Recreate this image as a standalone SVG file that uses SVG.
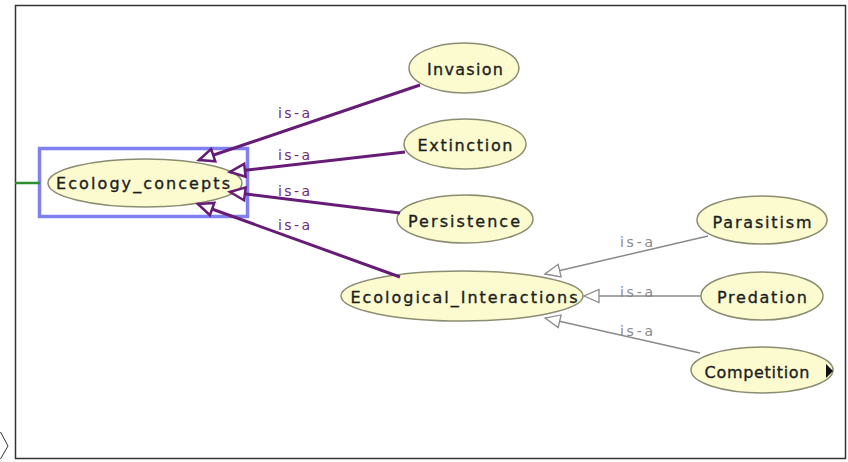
<svg xmlns="http://www.w3.org/2000/svg" width="848" height="462" viewBox="0 0 848 462">
<defs>
<style>
.node ellipse{fill:#fbfbcf;stroke:#8c8c72;stroke-width:1.5}
.node text{font-family:"DejaVu Sans",Verdana,sans-serif;font-size:16px;fill:#1e1e1e;stroke:#1e1e1e;stroke-width:0.35;text-anchor:middle}
.pe{stroke:#661c76;stroke-width:3;fill:none;marker-end:url(#ap)}
.ge{stroke:#8a8a8a;stroke-width:1.5;fill:none;marker-end:url(#ag)}
.pl{font-family:"DejaVu Sans",Verdana,sans-serif;font-size:14px;fill:#6e2a7e}
.gl{font-family:"DejaVu Sans",Verdana,sans-serif;font-size:14px;fill:#8a8a8a}
</style>
<marker id="ap" markerUnits="userSpaceOnUse" markerWidth="22" markerHeight="18" viewBox="-19 -9 22 18" refX="0" refY="0" orient="auto">
<path d="M0,0 L-15,-6.5 L-15,6.5 Z" fill="#fff" stroke="#661c76" stroke-width="2.5" stroke-linejoin="miter"/>
</marker>
<marker id="ag" markerUnits="userSpaceOnUse" markerWidth="22" markerHeight="18" viewBox="-19 -9 22 18" refX="0" refY="0" orient="auto">
<path d="M0,0 L-15,-6.5 L-15,6.5 Z" fill="#fff" stroke="#8a8a8a" stroke-width="1.3"/>
</marker>
</defs>
<rect x="0" y="0" width="848" height="462" fill="#fff"/>
<rect x="15.5" y="5.5" width="830" height="453" fill="#fff" stroke="#333" stroke-width="1.5"/>
<polyline points="0.5,432 8,446 0.5,459" fill="none" stroke="#333" stroke-width="1"/>
<g id="Ecology_concepts" class="node">
<ellipse cx="145" cy="183" rx="97" ry="24"/>
<text x="143" y="189" textLength="174">Ecology_concepts</text>
<rect x="39.5" y="148.5" width="208" height="68" fill="none" stroke="#8080f2" stroke-width="3.5"/>
</g>
<g id="Invasion" class="node">
<ellipse cx="464" cy="68" rx="55" ry="25"/>
<text x="465" y="75" textLength="76">Invasion</text>
</g>
<g id="Extinction" class="node">
<ellipse cx="465" cy="144" rx="61" ry="25"/>
<text x="465" y="151" textLength="95">Extinction</text>
</g>
<g id="Persistence" class="node">
<ellipse cx="465" cy="219" rx="68" ry="24"/>
<text x="464" y="227" textLength="112">Persistence</text>
</g>
<g id="Ecological_Interactions" class="node">
<ellipse cx="462" cy="296" rx="121" ry="25"/>
<text x="464" y="303" textLength="227">Ecological_Interactions</text>
</g>
<g id="Parasitism" class="node">
<ellipse cx="762" cy="220" rx="65" ry="24"/>
<text x="762" y="228" textLength="99">Parasitism</text>
</g>
<g id="Predation" class="node">
<ellipse cx="762" cy="296" rx="61" ry="24"/>
<text x="762" y="303" textLength="90">Predation</text>
</g>
<g id="Competition" class="node">
<ellipse cx="762" cy="370" rx="71" ry="23"/>
<text x="757" y="378" textLength="105">Competition</text>
<polygon points="826,364 833,371 826,378" fill="#111"/>
</g>
<g id="connectors">
<line x1="15" y1="183" x2="40" y2="183" stroke="#2e8f2e" stroke-width="2.5"/>
<line class="pe" x1="420" y1="85" x2="199" y2="160"/>
<line class="pe" x1="405" y1="152" x2="230" y2="172"/>
<line class="pe" x1="400" y1="213" x2="230" y2="192"/>
<line class="pe" x1="400" y1="277" x2="198" y2="204"/>
<line class="ge" x1="708" y1="236" x2="545" y2="274"/>
<line class="ge" x1="701" y1="296" x2="584" y2="296"/>
<line class="ge" x1="700" y1="353" x2="545" y2="318"/>
<text class="pl" x="278" y="118" textLength="32">is-a</text>
<text class="pl" x="278" y="160" textLength="32">is-a</text>
<text class="pl" x="278" y="196" textLength="32">is-a</text>
<text class="pl" x="278" y="230" textLength="32">is-a</text>
<text class="gl" x="620" y="247" textLength="33">is-a</text>
<text class="gl" x="620" y="297" textLength="33">is-a</text>
<text class="gl" x="620" y="336" textLength="33">is-a</text>
</g>
</svg>
